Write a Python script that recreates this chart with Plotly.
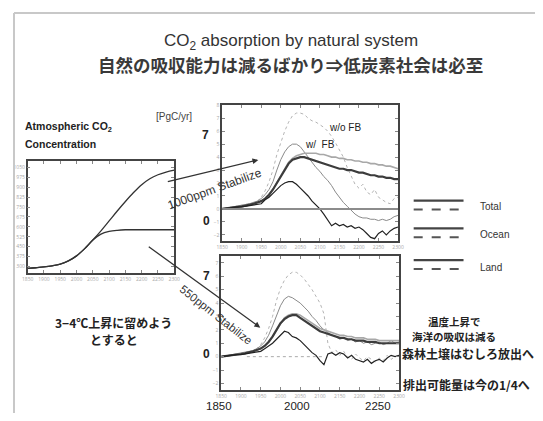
import plotly.graph_objects as go

# page body has an 8px margin, so the figure is drawn 8px in from the window corner
OFF = 8
W, H = 543 - 2 * OFF, 421 - 2 * OFF
def px(x): return (x - OFF) / W
def py(y): return 1 - (y - OFF) / H

# ---------------- data ----------------
conc_years = [1850, 1875, 1900, 1925, 1950, 1975, 2000, 2025, 2050, 2075, 2100,
              2125, 2150, 2175, 2200, 2225, 2250, 2275, 2300]
conc_1000 = [285, 290, 296, 305, 318, 342, 380, 435, 500, 570, 645, 720, 792,
             860, 920, 965, 995, 1015, 1030]
conc_550 = [285, 290, 296, 305, 318, 342, 380, 435, 500, 545, 565, 574, 578,
            578, 578, 578, 578, 578, 578]

years = [1850, 1860, 1870, 1880, 1890, 1900, 1910, 1920, 1930, 1940, 1950, 1960,
         1970, 1980, 1990, 2000, 2010, 2020, 2030, 2040, 2050, 2060, 2070, 2080,
         2090, 2100, 2110, 2120, 2130, 2140, 2150, 2160, 2170, 2180, 2190, 2200,
         2210, 2220, 2230, 2240, 2250, 2260, 2270, 2280, 2290, 2300]

# 1000 ppm stabilization [PgC/yr]
s1000_total_wo = [0.0, 0.05, 0.1, 0.15, 0.2, 0.25, 0.3, 0.4, 0.5, 0.6, 0.9, 1.4,
                  2.1, 3.0, 4.2, 5.2, 6.0, 6.7, 7.2, 7.4, 7.4, 7.3, 7.0, 6.8,
                  6.7, 6.5, 6.3, 6.0, 5.6, 5.1, 4.6, 4.0, 3.2, 2.5, 1.9, 1.6,
                  1.9, 1.3, 1.1, 1.5, 0.9, 0.7, 0.5, 0.4, 0.8, 0.9]
s1000_total_w = [0.0, 0.05, 0.1, 0.15, 0.2, 0.25, 0.3, 0.4, 0.5, 0.6, 0.8, 1.1,
                 1.5, 2.1, 3.0, 3.8, 4.4, 4.8, 5.0, 5.0, 4.8, 4.4, 4.0, 3.6,
                 3.2, 2.9, 2.5, 2.2, 1.8, 1.3, 0.9, 0.5, 0.2, -0.1, -0.4, -0.6,
                 -0.7, -0.7, -0.8, -0.8, -0.9, -0.8, -0.9, -0.8, -0.6, -0.5]
s1000_ocean_wo = [0.0, 0.03, 0.06, 0.1, 0.15, 0.2, 0.25, 0.3, 0.4, 0.5, 0.6, 0.8,
                  1.1, 1.5, 2.0, 2.6, 3.1, 3.6, 3.9, 4.1, 4.2, 4.3, 4.3, 4.3,
                  4.3, 4.2, 4.2, 4.1, 4.0, 4.0, 3.9, 3.9, 3.8, 3.8, 3.7, 3.7,
                  3.6, 3.6, 3.5, 3.5, 3.4, 3.4, 3.3, 3.3, 3.2, 3.1]
s1000_ocean_w = [0.0, 0.03, 0.06, 0.1, 0.15, 0.2, 0.25, 0.3, 0.4, 0.5, 0.6, 0.8,
                 1.1, 1.5, 2.0, 2.6, 3.1, 3.5, 3.8, 3.9, 4.0, 4.0, 3.9, 3.8,
                 3.7, 3.6, 3.5, 3.4, 3.3, 3.2, 3.1, 3.1, 3.0, 3.0, 2.9, 2.8,
                 2.8, 2.7, 2.6, 2.6, 2.5, 2.5, 2.4, 2.4, 2.3, 2.3]
s1000_land_w = [0.0, 0.05, 0.1, 0.1, 0.15, 0.15, 0.2, 0.2, 0.25, 0.3, 0.4, 0.7,
                0.9, 1.2, 1.5, 1.8, 2.0, 2.1, 2.1, 1.9, 1.6, 1.3, 1.0, 0.6,
                0.3, 0.0, -0.4, -0.9, -1.3, -1.1, -1.3, -1.2, -1.4, -1.3, -1.5, -1.4,
                -1.6, -1.9, -2.2, -2.3, -1.9, -1.7, -2.0, -1.7, -1.5, -1.4]

# 550 ppm stabilization [PgC/yr]
s550_total_wo = [0.0, 0.05, 0.1, 0.15, 0.2, 0.25, 0.3, 0.35, 0.4, 0.6, 0.9, 1.4,
                 2.1, 3.0, 4.2, 5.1, 5.7, 6.1, 6.3, 6.3, 6.1, 5.8, 5.4, 5.0,
                 4.5, 4.0, 3.2, 1.0, 0.3, 0.5, 0.1, 0.4, 0.0, -0.2, 0.2, -0.1,
                 -0.3, 0.0, -0.2, -0.4, -0.1, -0.3, 0.1, -0.2, 0.0, 0.1]
s550_total_w = [0.0, 0.05, 0.1, 0.15, 0.2, 0.25, 0.3, 0.35, 0.45, 0.6, 0.8, 1.1,
                1.6, 2.3, 3.1, 3.8, 4.3, 4.5, 4.4, 4.2, 4.0, 3.7, 3.4, 3.0,
                2.7, 2.3, 2.0, 1.8, 1.6, 1.5, 1.3, 1.4, 1.2, 1.3, 1.1, 1.2,
                1.0, 1.1, 0.9, 1.0, 1.1, 0.9, 1.0, 1.2, 1.0, 1.1]
s550_ocean_wo = [0.0, 0.03, 0.06, 0.1, 0.15, 0.2, 0.25, 0.3, 0.4, 0.5, 0.6, 0.8,
                 1.1, 1.5, 2.0, 2.5, 2.9, 3.1, 3.2, 3.2, 3.1, 2.9, 2.7, 2.5,
                 2.3, 2.1, 2.0, 1.9, 1.8, 1.7, 1.6, 1.6, 1.5, 1.5, 1.4, 1.4,
                 1.4, 1.3, 1.3, 1.3, 1.2, 1.2, 1.2, 1.2, 1.2, 1.2]
s550_ocean_w = [0.0, 0.03, 0.06, 0.1, 0.15, 0.2, 0.25, 0.3, 0.4, 0.5, 0.6, 0.8,
                1.1, 1.5, 2.0, 2.5, 2.8, 3.0, 3.1, 3.1, 2.9, 2.7, 2.5, 2.3,
                2.1, 1.9, 1.8, 1.7, 1.6, 1.5, 1.4, 1.4, 1.3, 1.3, 1.2, 1.2,
                1.2, 1.1, 1.1, 1.1, 1.0, 1.0, 1.0, 1.0, 1.0, 1.0]
s550_land_w = [0.0, 0.05, 0.1, 0.1, 0.15, 0.15, 0.2, 0.2, 0.25, 0.3, 0.4, 0.6,
               0.8, 1.0, 1.3, 1.6, 1.9, 1.8, 1.5, 1.4, 1.2, 0.9, 0.6, 0.3,
               0.1, -0.3, -0.6, 0.2, 0.3, 0.1, 0.3, 0.2, -0.1, 0.1, -0.2, -0.3,
               -0.4, -0.2, -0.5, -0.3, -0.2, -0.4, -0.1, 0.1, 0.0, 0.1]

legend_labels = ["Total", "Ocean", "Land"]

# ---------------- figure ----------------
fig = go.Figure()

# left chart: atmospheric CO2
fig.add_trace(go.Scatter(x=conc_years, y=conc_1000, mode="lines", xaxis="x", yaxis="y",
                         line=dict(color="#333", width=1.3, shape="spline")))
fig.add_trace(go.Scatter(x=conc_years, y=conc_550, mode="lines", xaxis="x", yaxis="y",
                         line=dict(color="#333", width=1.3, shape="spline")))

styles = [
    dict(color="#b4b4b4", width=1, dash="dot"),   # total w/o FB
    dict(color="#8a8a8a", width=1),               # total w/ FB
    dict(color="#a8a8a8", width=1.6),             # ocean w/o FB
    dict(color="#3c3c3c", width=2.2),             # ocean w/ FB
    dict(color="#222222", width=1.2),             # land w/ FB
]
top_series = [s1000_total_wo, s1000_total_w, s1000_ocean_wo, s1000_ocean_w, s1000_land_w]
bot_series = [s550_total_wo, s550_total_w, s550_ocean_wo, s550_ocean_w, s550_land_w]
for s, st in zip(top_series, styles):
    fig.add_trace(go.Scatter(x=years, y=s, mode="lines", xaxis="x2", yaxis="y2", line=st))
for s, st in zip(bot_series, styles):
    fig.add_trace(go.Scatter(x=years, y=s, mode="lines", xaxis="x3", yaxis="y3", line=st))

ax_common = dict(showline=True, mirror="ticks", linecolor="#444", linewidth=1.6,
                 ticks="inside", ticklen=3, tickcolor="#888", showgrid=False,
                 zeroline=False, tickfont=dict(size=5, color="#a8a8a8"))

fig.update_layout(
    width=W, height=H, autosize=False, showlegend=False,
    margin=dict(l=0, r=0, t=0, b=0),
    paper_bgcolor="white", plot_bgcolor="white",
    xaxis=dict(domain=[px(22), px(172)], anchor="y", range=[1850, 2300], dtick=50, **ax_common),
    yaxis=dict(domain=[py(272), py(159)], anchor="x", range=[250, 1100], dtick=75, **ax_common),
    xaxis2=dict(domain=[px(221), px(401)], anchor="y2", range=[1850, 2300], dtick=50, **ax_common),
    yaxis2=dict(domain=[py(240), py(103)], anchor="x2", range=[-2.5, 8], dtick=1, **ax_common),
    xaxis3=dict(domain=[px(220), px(402)], anchor="y3", range=[1850, 2300], dtick=50, **ax_common),
    yaxis3=dict(domain=[py(390), py(255)], anchor="x3", range=[-2.5, 7.5], dtick=1, **ax_common),
)

shapes = []
# slide frame
shapes.append(dict(type="line", xref="paper", yref="paper", x0=px(8), x1=px(543),
                   y0=py(10), y1=py(10), line=dict(color="#c8c8c8", width=2)))
shapes.append(dict(type="line", xref="paper", yref="paper", x0=px(8), x1=px(8),
                   y0=py(10), y1=py(421), line=dict(color="#c8c8c8", width=2)))
# zero lines
shapes.append(dict(type="line", xref="x2", yref="y2", x0=1850, x1=2300, y0=0, y1=0,
                   line=dict(color="#8c8c8c", width=2)))
shapes.append(dict(type="line", xref="x3", yref="y3", x0=1915, x1=2105, y0=0, y1=0,
                   line=dict(color="#aaa", width=1, dash="dot")))
# legend swatches
for yy in (199, 227, 259):
    shapes.append(dict(type="line", xref="paper", yref="paper", x0=px(417), x1=px(468),
                       y0=py(yy), y1=py(yy), line=dict(color="#444", width=2.2)))
    shapes.append(dict(type="line", xref="paper", yref="paper", x0=px(417), x1=px(468),
                       y0=py(yy + 9), y1=py(yy + 9), line=dict(color="#555", width=2, dash="dash")))
fig.update_layout(shapes=shapes)

EN = "Liberation Sans, Arial, sans-serif"
JP = "Noto Sans CJK JP, sans-serif"
ann = []
def txt(x, y, s, size, color="#222", family=EN, xanchor="center", angle=0):
    ann.append(dict(x=px(x), y=py(y), xref="paper", yref="paper", text=s, showarrow=False,
                    xanchor=xanchor, yanchor="middle", textangle=angle,
                    font=dict(size=size, color=color, family=family)))

txt(291, 39, "CO<sub>2</sub> absorption by natural system", 17, color="#333")
txt(291, 62, "<b>自然の吸収能力は減るばかり⇒低炭素社会は必至</b>", 17.5, color="#3a3a3a", family=JP)
txt(17, 125, "<b>Atmospheric CO<sub>2</sub></b>", 10.5, xanchor="left")
txt(17, 142, "<b>Concentration</b>", 10.5, xanchor="left")
txt(172, 114, "[PgC/yr]", 10, color="#444")
txt(204, 133, "<b>7</b>", 12)
txt(205, 220, "<b>0</b>", 12)
txt(205, 275, "<b>7</b>", 12)
txt(205, 354, "<b>0</b>", 12)
txt(218, 406, "1850", 11.5)
txt(298, 406, "2000", 11.5)
txt(380, 406, "2250", 11.5)
txt(347, 125, "w/o FB", 10)
txt(321, 142, "w/&nbsp;&nbsp;FB", 10)
txt(213, 187, "1000ppm Stabilize", 12, color="#333", angle=-20)
txt(215, 314, "550ppm Stabilize", 11.5, color="#333", angle=38)
for lab, yy in zip(legend_labels, (205, 233, 266)):
    txt(483, yy, lab, 10, color="#333", xanchor="left")
txt(110, 322, "<b>3−4℃上昇に留めよう</b>", 12, family=JP)
txt(110, 339, "<b>とすると</b>", 12, family=JP)
txt(459, 321, "<b>温度上昇で</b>", 10.5, family=JP)
txt(458, 336, "<b>海洋の吸収は減る</b>", 10.5, family=JP)
txt(403, 353, "<b>森林土壌はむしろ放出へ</b>", 12, family=JP, xanchor="left")
txt(404, 384, "<b>排出可能量は今の1/4へ</b>", 12, family=JP, xanchor="left")

# arrows from concentration chart to flux panels
ann.append(dict(x=px(258), y=py(158), xref="paper", yref="paper", ax=-92, ay=22,
                text="", showarrow=True, arrowhead=2, arrowsize=0.9, arrowwidth=1.3,
                arrowcolor="#333"))
ann.append(dict(x=px(260), y=py(327), xref="paper", yref="paper", ax=-113, ay=-82,
                text="", showarrow=True, arrowhead=2, arrowsize=0.9, arrowwidth=1.3,
                arrowcolor="#333"))
fig.update_layout(annotations=ann)

fig.write_html("out.html")
